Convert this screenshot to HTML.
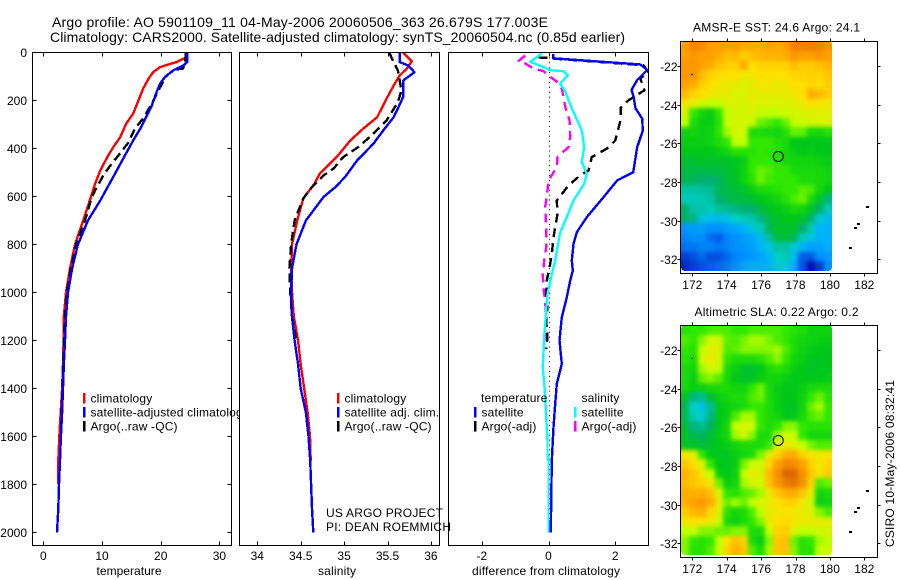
<!DOCTYPE html>
<html>
<head>
<meta charset="utf-8">
<title>Argo profile</title>
<style>
html,body{margin:0;padding:0;background:#fff;width:900px;height:580px;overflow:hidden}
svg{display:block}
text{font-family:"Liberation Sans",sans-serif;font-size:12px;fill:#000}
.title{font-size:14px}
.legend{letter-spacing:.17px}
</style>
</head>
<body>
<svg id="chart" xmlns="http://www.w3.org/2000/svg" width="900" height="580" viewBox="0 0 900 580">
<defs>
<filter id="heat-smooth" filterUnits="userSpaceOnUse" x="670" y="30" width="180" height="540" color-interpolation-filters="sRGB">
<feGaussianBlur stdDeviation="2"/>
<feComponentTransfer><feFuncA type="linear" slope="100" intercept="-49"/></feComponentTransfer>
</filter>
</defs>
<rect x="0" y="0" width="900" height="580" fill="#fff"/>
<text class="title" x="52" y="27" textLength="496" lengthAdjust="spacing">Argo profile: AO 5901109_11 04-May-2006 20060506_363 26.679S 177.003E</text>
<text class="title" x="50" y="42" textLength="575" lengthAdjust="spacing">Climatology: CARS2000. Satellite-adjusted climatology: synTS_20060504.nc (0.85d earlier)</text>
<g id="layer-panels"></g>
<g id="layer-maps"></g>
<text x="326" y="517" textLength="117" lengthAdjust="spacing">US ARGO PROJECT</text>
<text x="326" y="531" textLength="125" lengthAdjust="spacing">PI: DEAN ROEMMICH</text>
<text x="894" y="547" transform="rotate(-90 894 547)" textLength="167" lengthAdjust="spacing">CSIRO 10-May-2006 08:32:41</text>
</svg>
<script>
// ---------- Temperature panel data ----------
const tempClimDepth = [0,22,40,50,61,82,110,151,200,255,297,353,395,436,492,548,610,700,800,900,1000,1100,1200,1300,1400,1500,1600,1700,1800];
const tempClimValue = [24.3,24.2,22.7,21.3,19.9,18.7,17.9,17.0,16.2,15.3,14.1,13.1,11.9,10.9,9.7,8.8,8.0,6.8,5.4,4.55,3.87,3.5,3.45,3.36,3.2,2.96,2.73,2.55,2.5];
const tempSatDepth = [0,40,54,75,103,130,165,220,265,318,367,429,492,554,617,700,800,900,1000,1100,1200,1300,1400,1500,1600,1700,1800,1900,2000];
const tempSatValue = [24.5,24.5,23.85,22.1,20.7,19.9,19.3,18.5,17.6,16.5,15.3,13.9,12.5,11.1,9.7,7.6,5.9,4.9,4.2,3.87,3.7,3.5,3.36,3.2,3.0,2.85,2.67,2.55,2.33];
const tempArgoDepth = [0,50,67,71,96,158,213,275,317,375,429,463,513,575,608,700,800,900,1000,1100,1200,1300,1400,1600];
const tempArgoValue = [24.3,24.1,23.8,22.4,21,19.6,18.5,17,15.6,14.5,12.8,11.65,10.2,8.8,8.2,7.1,5.6,4.7,4.0,3.7,3.5,3.4,3.27,3.0];
// ---------- Salinity panel data ----------
const salClimDepth = [0,37,68,96,138,192,270,317,367,429,504,546,608,700,800,900,1000,1100,1200,1300,1400,1500,1600,1700];
const salClimValue = [35.68,35.78,35.72,35.64,35.57,35.49,35.38,35.22,35.07,34.93,34.72,34.66,34.53,34.46,34.4,34.39,34.4,34.42,34.47,34.5,34.54,34.58,34.607,34.615];
const salSatDepth = [0,40,54,82,117,186,233,270,325,379,450,519,561,603,700,800,900,1000,1100,1200,1300,1400,1500,1600,1700,1800,1900,2000];
const salSatValue = [35.64,35.64,35.74,35.81,35.68,35.68,35.62,35.57,35.45,35.34,35.15,35.01,34.9,34.76,34.56,34.45,34.4,34.39,34.4,34.43,34.47,34.5,34.56,34.59,34.61,34.62,34.63,34.645];
const salArgoDepth = [0,40,75,117,158,207,283,338,395,436,483,513,561,608,700,800,900,1000,1100,1200];
const salArgoValue = [35.52,35.57,35.62,35.64,35.66,35.62,35.49,35.34,35.16,34.99,34.88,34.76,34.63,34.53,34.43,34.39,34.37,34.38,34.4,34.45];
// ---------- Difference panel data ----------
const diffTempSatDepth = [6,24,50,73,115,156,183,232,276,325,394,499,533,603,686,749,798,867,909,950,1020,1103,1200,1298,1381,1464,1561,1700,1867,2000];
const diffTempSatValue = [0.14,0.14,2.76,2.96,2.66,2.49,2.55,2.61,2.81,2.83,2.66,2.54,2.06,1.65,1.15,0.85,0.75,0.7,0.73,0.65,0.55,0.4,0.33,0.4,0.25,0.2,0.15,0.1,0.08,0.07];
const diffSalSatDepth = [4,39,60,74,78,94,129,162,233,325,394,457,506,547,617,686,749,867,923,1006,1075,1186,1311,1409,1520,1617,1672,1700,2000];
const diffSalSatValue = [-0.2,-0.55,-0.16,0.05,0.45,0.58,0.35,0.5,0.7,1.0,1.07,1.0,1.15,1.07,0.75,0.55,0.35,0.2,0.1,-0.03,-0.07,-0.13,-0.17,-0.11,-0.07,-0.03,-0.03,0,0];
const diffTempArgoDepth = [21,22,25,53,83,108,157,199,229,283,367,401,436,492,512,554,617,672,728,770,839,881,950,1006,1075,1117,1186,1235];
const diffTempArgoValue = [-0.3,0,0.1,2.85,3.0,2.75,2.88,2.4,2.17,2.16,2.0,1.75,1.3,1.2,0.95,0.6,0.25,0.27,0.2,0.15,0.1,0.05,-0.05,-0.07,-0.03,-0.07,-0.03,-0.07];
const diffSalArgoDepth = [12,36,46,67,78,101,122,150,225,283,353,394,436,478,533,575,644,728,811,867,923,985,1034,1117,1214];
const diffSalArgoValue = [-0.7,-0.9,-0.7,-0.45,-0.15,0.05,0.25,0.4,0.5,0.63,0.65,0.6,0.27,0.25,0,-0.03,-0.1,-0.07,-0.07,-0.13,-0.17,-0.15,-0.1,-0.07,-0.05];
// ---------- Tick labels ----------
const depthTicks = [0,200,400,600,800,1000,1200,1400,1600,1800,2000];
const tempTicks = [0,10,20,30];
const salTicks = [34,34.5,35,35.5,36];
const diffTicks = [-2,0,2];
const lonTicks = [172,174,176,178,180,182];
const latTicks = [-22,-24,-26,-28,-30,-32];
// ---------- Map data: colour level per cell, north to south ----------
const sstRows = [
[10,10.6,10.5,10,10,10,10,9.8,9.8,9.8,10,9.8,10,10.7,10.7,10.8,10.6,10.3],
[10,10.2,10,10,9.8,9.5,9.6,9.2,9.5,9.6,9.7,9.7,9.8,10.2,10,10,10.2,10],
[10.2,10.2,10,9.8,9.4,9.3,9.2,9.9,9.0,9.2,9.2,9.2,9.2,9.6,9.3,9.3,9.5,9.7],
[10.2,10.2,9.6,9.2,9.1,9,9,8.7,8.8,9,9,9,9,9.2,9.2,9.3,9.2,9.4],
[10,9.8,9.3,9,8.8,8.7,8.6,8.4,8.6,8.8,8.8,8.7,8.8,9,9,9.2,9,9.3],
[9.6,9.2,9,8.8,8.6,8.6,8.4,8.4,8.6,8.6,8.6,8.6,8.6,8.8,9,9.8,9.6,9.3],
[8.8,8.6,8.2,8,8,8.4,8.4,8.3,8.5,8.4,8.4,8.4,8.4,8.5,8.7,9,8.9,8.8],
[8.4,7,6.4,6.2,7,8,8.3,8.2,8.4,8,8,8,8.2,8.3,8.4,8.4,8.5,8.5],
[8,6.6,6.2,6.2,6.8,8,8.3,8.2,8.2,7.4,7.2,7,7.4,8,8.2,8.2,8.3,8.4],
[6.3,6.4,6.2,6.3,6.9,7.8,8.3,8.2,6.6,6.6,6.5,6.4,6.8,7.4,7.3,6.5,6.5,6.8],
[6.2,6.2,6.2,6.3,6.6,7,8,8,7,7,7,6.7,6.5,6,6,6,6,6],
[6,6,6,6,6.2,6.4,6.8,6.8,6.8,7,6.9,6.7,6.5,6.2,6,6.1,6,6],
[5.7,5.7,5.8,5.8,5.8,5.8,5.9,6.2,7,7,7,6.8,6.5,6.4,6.4,6.4,6.3,6.2],
[5.5,5.5,5.5,5.5,5.5,5.7,5.9,6.3,7,7.4,7.2,7,7,6.6,6.5,6.5,6.5,6.3],
[5.3,5.2,5,5,5.2,5.6,5.8,6.3,6.8,7.4,7.1,7,7,7,6.6,6.6,6.5,6.4],
[4.4,4.4,4.5,4.6,5.3,5.5,5.6,5.8,6.2,6.5,6.6,6.8,7,7,7.3,7.2,6.4,6],
[4.2,4.2,4.2,4.4,5,5.3,5.5,5.6,5.7,6,6.2,6.4,6.8,7.2,7.4,6.6,5.8,4.8],
[5,4.4,4.3,4.2,4.5,4.6,4.8,5,5,5.5,5.8,6,6.2,6.5,6.4,5.8,5,4.2],
[5,4.8,3.5,3.3,3.2,3.5,4,4.2,4.3,4.8,5.5,5.8,6,6,5.8,5,3.8,3.2],
[2.2,2.3,2.4,2,2,2.4,2.6,3,3.5,4.2,5.2,5.8,5.8,5.8,5,4.2,3,3],
[1.8,2,2,1.5,1.2,1.8,2,2.4,2.6,3.2,4.5,5.5,5.6,5.3,4.2,3.5,3,3],
[1.6,1.6,1.8,1.8,1.6,1.8,2,2.2,2.4,3,3.6,4.4,4.4,3.6,3,2.5,2.5,2.8],
[0.8,1,1.4,1,1,1.4,1.8,2,2.2,2.6,3,4,4.2,3.2,1.2,1.2,2,2.3],
[0.5,0.8,1,1.2,1.4,1.6,2,2.6,2.8,2.8,3,3.6,3.8,2.8,1,0.2,0.8,2]
];
const slaRows = [
[6.8,7,7,7.2,7.2,7.2,7,7,7.2,7.2,7.2,7.2,7,6.8,6.6,6.3,6.3,6.3],
[7.2,7,7.6,8.3,8.3,7.3,7.2,7.5,7.8,7.8,7.5,7.2,7,6.6,6.4,6.3,6.2,6.2],
[7,6.8,8,8.5,8.4,7.2,7.3,7.6,7.6,7.6,7.6,7.8,7.2,6.6,6.3,6.1,6,6],
[6.8,6.6,8.2,8.6,8.3,7,6.6,6.6,6.6,6.8,7.2,7.6,7,6.4,6.2,5.9,5.9,6],
[6.6,6.4,7.8,8.3,8,6.6,6.2,5.8,5.7,6,6.6,6.8,6.6,6.2,6,5.8,5.9,6],
[6.6,6.2,7.4,7.6,7.3,6.5,6,5.8,5.8,6.2,6.4,6.4,6.2,6,6,6,6,6.2],
[6.5,6.2,6.3,6.5,6.6,6.6,6.4,6.4,7,7.4,6.5,6.2,6,6,6.2,6.5,6.6,6.6],
[5.8,4.8,4.6,5.6,6.2,6.4,6.6,6.6,7.2,7.4,6.6,6.2,6,6,6.3,7,7.4,6.8],
[5.3,4,3.4,4.6,5.9,6.2,6.4,6.6,7,7,6.6,6.2,5.9,5.9,6.4,7.4,7.8,7],
[5.4,4.2,3.8,4.8,6,6.2,7.2,7.8,7.8,7,6.6,6.4,6,5.9,6.5,7.2,7.4,7],
[5.6,4.8,4.6,5.2,6,6.4,8,8.4,8.2,7,6.6,6.9,7.6,7.6,7,6.8,6.8,6.8],
[5.8,5.4,5.2,5.6,6.1,6.4,7.8,8.2,7.6,6.6,6.6,7.8,8.2,8.1,7,6.4,6.4,6.4],
[5.9,5.8,5.6,5.8,6,6.2,6.4,6.6,6.6,6.6,7,8.4,8.7,8.6,8,7.5,7.2,7.2],
[8.8,8.5,7,6,5.9,5.9,6.2,6.4,6.6,7.5,8.6,9.2,9.8,9.8,9.2,8.8,8.8,8.9],
[9.4,9,8.4,7,6,5.9,6.2,7.5,8.2,8.2,9.2,10,10.6,10.5,10,9.2,8.8,9.2],
[9.7,9.4,8.8,8,6.2,6,6.3,8,8.6,8.4,9.6,10.4,11.5,11.4,10.4,9.4,8.8,9.3],
[9.6,9.4,9.2,8.8,7.4,6.2,6.4,7.8,8.4,8.2,9.5,10.2,10.9,11.1,10.4,9.2,7.2,7.4],
[9.8,9.7,9.8,9.5,8.4,7,6.8,7.2,7.4,7.8,8.8,9.4,9.8,9.8,9.4,8.6,6.4,6.6],
[9.7,10,10.2,9.8,8.6,7.4,7.8,7.4,8,8.4,8.6,9,9.2,9.2,8.8,8.2,6.2,6.4],
[9.3,9.6,9.8,9.2,8.4,6.8,6.4,6.6,7.2,8,8.6,8.8,9,8.8,8.6,8.4,7.6,7.2],
[8.8,8.9,9,8.7,8.2,6.5,6.3,6.6,7,7.6,8.6,9,9.1,8.8,8.7,8.7,8.6,8.5],
[8,8,7.6,7.6,7.4,7.4,7.6,7.6,6.6,6.6,8,9.2,9.3,8.4,8,8,8.2,8.4],
[7.6,7,6.8,7,8,9,9.5,9.2,6.6,6.2,7.6,9.4,9.5,7.4,6.8,7,7.8,8],
[7.6,6.8,6.8,7.2,8,9.2,9.7,9.4,7.2,6.6,7.8,9.4,9.5,7.6,6.8,6.8,8,8.2]
];
const coastLon = [172.0,182.16,181.46,181.63,181.17];
const coastLat = [-22.44,-29.29,-30.38,-30.17,-31.41];
const floatLon = 177.0;
const floatLat = -26.68;

const SVGNS = 'http://www.w3.org/2000/svg';
const palette = ['#0000a0','#0050e0','#0090ff','#00b4f8','#00d0c8','#00b070','#00c818','#30e800','#c0ff00','#ffe000','#ffa000','#e87800','#d05000'];

function colorOf(level){
  const v = Math.max(0, Math.min(palette.length - 1, level));
  const i = Math.min(palette.length - 2, Math.floor(v));
  const t = v - i;
  const a = palette[i], b = palette[i + 1];
  const ch = (p) => {
    const x = parseInt(a.substr(p, 2), 16), y = parseInt(b.substr(p, 2), 16);
    return Math.round(x + (y - x) * t);
  };
  return 'rgb(' + ch(1) + ',' + ch(3) + ',' + ch(5) + ')';
}
function make(tag, parent, attrs){
  const el = document.createElementNS(SVGNS, tag);
  for (const k in attrs) el.setAttribute(k, attrs[k]);
  parent.appendChild(el);
  return el;
}

const panelTop = 52.5, panelBottom = 545.5, depthScale = 0.24;
const yDepth = (d) => panelTop + d * depthScale;
const panelsLayer = document.getElementById('layer-panels');

function drawPanel(cfg){
  const xOf = (v) => cfg.left + (v - cfg.min) / (cfg.max - cfg.min) * (cfg.right - cfg.left);
  const g = make('g', panelsLayer, {});
  
  
  const bg = make('rect', g, {x: cfg.left, y: panelTop, width: cfg.right - cfg.left, height: panelBottom - panelTop, fill: '#fff'});
  
  
  const clipId = 'clip-' + cfg.name;
  const clip = make('clipPath', g, {id: clipId});
  make('rect', clip, {x: cfg.left, y: panelTop, width: cfg.right - cfg.left, height: panelBottom - panelTop});
  if (cfg.zeroLine) {
    const z = make('line', g, {x1: Math.round(xOf(0)) + 0.5, x2: Math.round(xOf(0)) + 0.5, y1: panelTop, y2: yDepth(2000), stroke: '#000', 'stroke-width': 1, 'stroke-dasharray': '1 3.9'});
    
    
  }
  cfg.series.forEach((s) => {
    const pts = s.values.map((v, i) => xOf(v).toFixed(1) + ',' + yDepth(s.depths[i]).toFixed(1)).join(' ');
    const line = make('polyline', g, {points: pts, fill: 'none', stroke: s.color, 'stroke-width': s.width || 2.4, 'clip-path': 'url(#' + clipId + ')', 'stroke-linejoin': 'round', 'shape-rendering': 'crispEdges'});
    if (s.dash) line.setAttribute('stroke-dasharray', s.dash);
    
    
  });
  const frame = make('rect', g, {x: cfg.left, y: panelTop, width: cfg.right - cfg.left, height: panelBottom - panelTop, fill: 'none', stroke: '#000', 'stroke-width': 1});
  
  
  cfg.ticks.forEach((t) => {
    const x = Math.round(xOf(t)) + 0.5;
    const tk = make('path', g, {d: 'M' + x + ' ' + panelBottom + 'v-4M' + x + ' ' + panelTop + 'v4', stroke: '#000', 'stroke-width': 1, fill: 'none'});
    
    
    const lb = make('text', g, {x: xOf(t), y: 560, 'text-anchor': 'middle'});
    lb.textContent = String(t);
    
    
  });
  if (cfg.depthAxis) {
    depthTicks.forEach((d) => {
      const y = Math.round(yDepth(d) - 0.5) + 0.5;
      const tk = make('path', g, {d: 'M' + cfg.left + ' ' + y + 'h4M' + cfg.right + ' ' + y + 'h-4', stroke: '#000', 'stroke-width': 1, fill: 'none'});
      
      
      const lb = make('text', g, {x: 27, y: y + 4.5, 'text-anchor': 'end'});
      lb.textContent = String(d);
      
      
    });
  }
  const title = make('text', g, {x: cfg.labelX, y: 575, 'text-anchor': 'middle', textLength: cfg.labelLen, lengthAdjust: 'spacing'});
  title.textContent = cfg.label;
  
  
  cfg.legend.forEach((e) => {
    if (e.color) {
      const bar = make('rect', g, {x: e.x - 7.5, y: e.y - 9.5, width: 2.5, height: 10.5, fill: e.color});
      
      
    }
    const tx = make('text', g, {x: e.x, y: e.y, 'class': 'legend'});
    tx.textContent = e.text;
    
    
  });
}

drawPanel({name:'temperature', left:32.5, right:231.5, min:-1.84, max:32.06, ticks:tempTicks, depthAxis:true, label:'temperature', labelX:129, labelLen:65,
  series:[
    {name:'temperature-climatology-line', color:'#ff0000', depths:tempClimDepth, values:tempClimValue},
    {name:'temperature-argo-line', color:'#000', dash:'9 5', depths:tempArgoDepth, values:tempArgoValue},
    {name:'temperature-satellite-line', color:'#0000ff', depths:tempSatDepth, values:tempSatValue}
  ],
  legend:[
    {x:90.5, y:402.5, text:'climatology', color:'#ff0000'},
    {x:90.5, y:416.5, text:'satellite-adjusted climatology', color:'#0000ff'},
    {x:90.5, y:430.5, text:'Argo(..raw -QC)', color:'#000'}
  ]});
drawPanel({name:'salinity', left:239.5, right:439.5, min:33.795, max:36.099, ticks:salTicks, label:'salinity', labelX:337, labelLen:38,
  series:[
    {name:'salinity-climatology-line', color:'#ff0000', depths:salClimDepth, values:salClimValue},
    {name:'salinity-argo-line', color:'#000', dash:'9 5', depths:salArgoDepth, values:salArgoValue},
    {name:'salinity-satellite-line', color:'#0000ff', depths:salSatDepth, values:salSatValue}
  ],
  legend:[
    {x:344.5, y:402.5, text:'climatology', color:'#ff0000'},
    {x:344.5, y:416.5, text:'satellite adj. clim.', color:'#0000ff'},
    {x:344.5, y:430.5, text:'Argo(..raw -QC)', color:'#000'}
  ]});
drawPanel({name:'difference', left:448.5, right:648.5, min:-3, max:3, ticks:diffTicks, zeroLine:true, label:'difference from climatology', labelX:546, labelLen:148,
  series:[
    {name:'difference-salinity-argo-line', color:'#ff00ff', dash:'9 6', depths:diffSalArgoDepth, values:diffSalArgoValue},
    {name:'difference-temperature-argo-line', color:'#000', dash:'9 6', depths:diffTempArgoDepth, values:diffTempArgoValue},
    {name:'difference-temperature-satellite-line', color:'#0000ff', depths:diffTempSatDepth, values:diffTempSatValue},
    {name:'difference-salinity-satellite-line', color:'#00ffff', depths:diffSalSatDepth, values:diffSalSatValue}
  ],
  legend:[
    {x:481, y:402, text:'temperature'},
    {x:481.5, y:416.5, text:'satellite', color:'#0000ff'},
    {x:481.5, y:430.5, text:'Argo(-adj)', color:'#000'},
    {x:581.5, y:402, text:'salinity'},
    {x:581.5, y:416.5, text:'satellite', color:'#00ffff'},
    {x:581.5, y:430.5, text:'Argo(-adj)', color:'#ff00ff'}
  ]});

const mapsLayer = document.getElementById('layer-maps');
const mapLeft = 680.5, mapRight = 877.5, lonRef = 172, lonRefX = 692.3, lonPx = 17.2, latPx = 19.33;
const cellLonStart = 171.34, cellLonStep = 0.488, cellLatStart = -20.73, cellLatStep = 0.4946;

function drawMap(cfg){
  const xLon = (v) => lonRefX + (v - lonRef) * lonPx;
  const yLat = (v) => cfg.lat22Y + (-22 - v) * latPx;
  const g = make('g', mapsLayer, {});
  
  
  const heat = make('g', g, {filter: 'url(#heat-smooth)'});
  
  
  cfg.rows.forEach((row, r) => {
    row.forEach((level, c) => {
      const x0 = Math.round(xLon(cellLonStart + c * cellLonStep));
      const x1 = Math.round(xLon(cellLonStart + (c + 1) * cellLonStep));
      const y0 = Math.round(yLat(cellLatStart - r * cellLatStep));
      const y1 = Math.round(yLat(cellLatStart - (r + 1) * cellLatStep));
      const cell = make('rect', heat, {x: x0, y: y0, width: x1 - x0, height: y1 - y0, fill: colorOf(level), 'shape-rendering': 'crispEdges'});
      
      
    });
  });
  coastLon.forEach((lon, i) => {
    const mark = make('rect', g, {x: Math.round(xLon(lon)) - 1, y: Math.round(yLat(coastLat[i])) - 1, width: i === 0 ? 2 : 3, height: i === 0 ? 1 : 2, fill: '#000', 'shape-rendering': 'crispEdges'});
    
    
  });
  const frame = make('rect', g, {x: mapLeft, y: cfg.top, width: mapRight - mapLeft, height: cfg.bottom - cfg.top, fill: 'none', stroke: '#000', 'stroke-width': 1});
  
  
  lonTicks.forEach((t) => {
    const x = Math.round(xLon(t)) + 0.5;
    const tk = make('path', g, {d: 'M' + x + ' ' + cfg.bottom + 'v3M' + x + ' ' + cfg.top + 'v-3', stroke: '#000', 'stroke-width': 1, fill: 'none'});
    
    
    const lb = make('text', g, {x: xLon(t), y: cfg.lonLabelY, 'text-anchor': 'middle'});
    lb.textContent = String(t);
    
    
  });
  latTicks.forEach((t) => {
    const y = Math.round(yLat(t)) + 0.5;
    const tk = make('path', g, {d: 'M' + mapLeft + ' ' + y + 'h-3M' + mapRight + ' ' + y + 'h3', stroke: '#000', 'stroke-width': 1, fill: 'none'});
    
    
    const lb = make('text', g, {x: 677.5, y: y + 4.5, 'text-anchor': 'end'});
    lb.textContent = String(t);
    
    
  });
  const mark = make('circle', g, {cx: xLon(floatLon), cy: yLat(floatLat), r: 5, fill: 'none', stroke: '#000', 'stroke-width': 1});
  
  
  const title = make('text', g, {x: 776.5, y: cfg.titleY, 'text-anchor': 'middle', textLength: cfg.titleLen, lengthAdjust: 'spacing'});
  title.textContent = cfg.title;
  
  
}

drawMap({name:'sst', rows:sstRows, top:41.5, bottom:273.5, lat22Y:66, lonLabelY:289, titleY:31.5, titleLen:167, title:'AMSR-E SST: 24.6 Argo: 24.1'});
drawMap({name:'sla', rows:slaRows, top:325.5, bottom:557.5, lat22Y:350, lonLabelY:573, titleY:316, titleLen:164, title:'Altimetric SLA: 0.22 Argo: 0.2'});
</script>
</body>
</html>
